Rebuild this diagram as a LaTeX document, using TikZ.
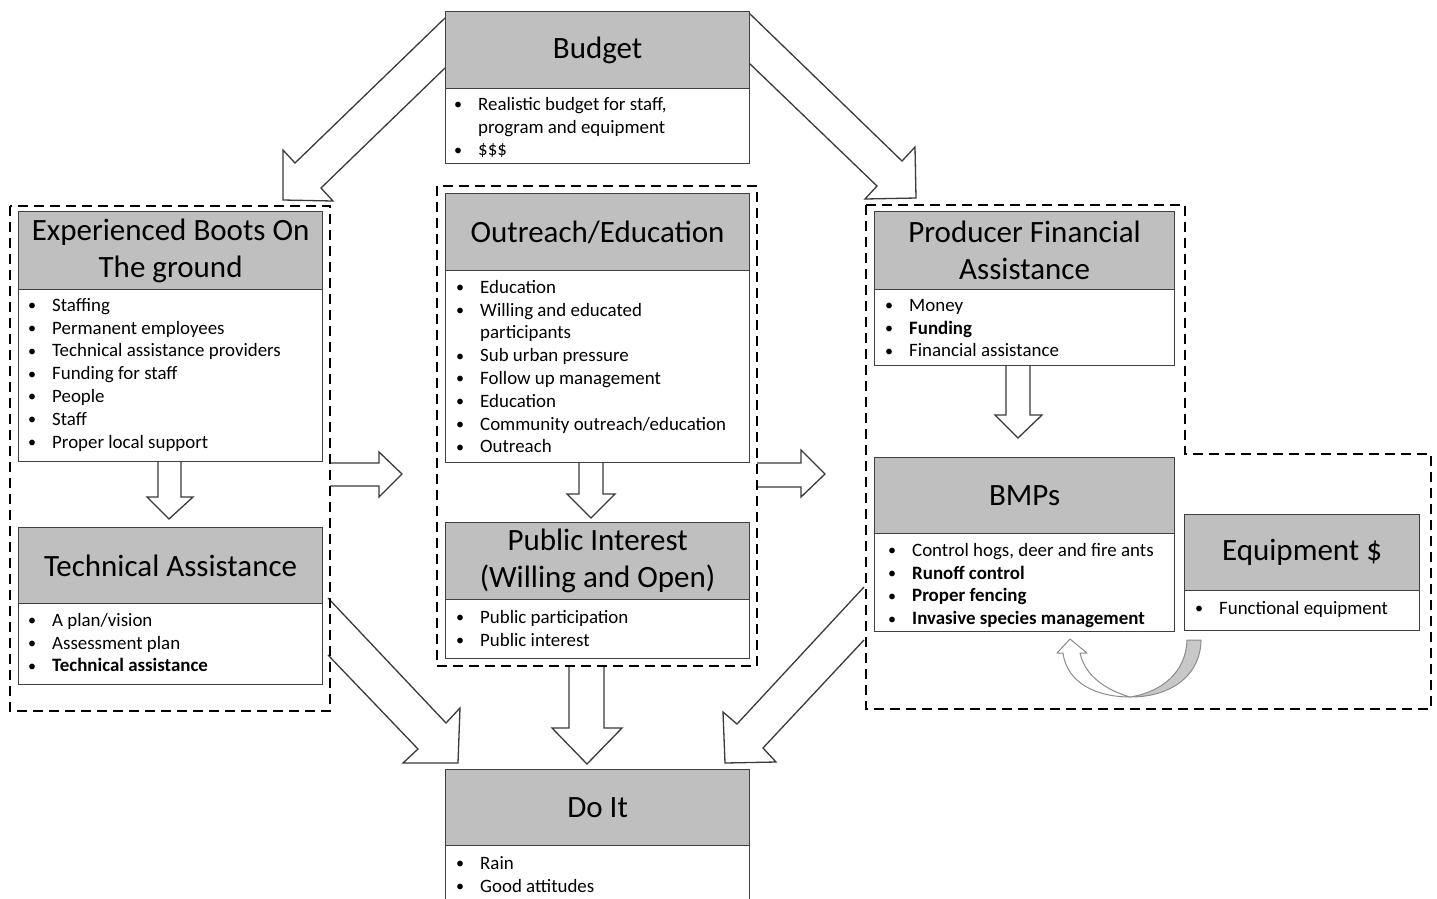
\documentclass[tikz,border=0pt]{standalone}
\usepackage{fontspec}
\setmainfont{Carlito}
\definecolor{hdrgray}{HTML}{BFBFBF}
\definecolor{boxline}{HTML}{404040}
\definecolor{arrline}{HTML}{3A3A3A}
\definecolor{curvegray}{HTML}{C8C8C8}
\definecolor{curveline}{HTML}{8C8C8C}
\newcommand{\bu}{\rule{0pt}{14pt}\makebox[24pt][l]{\raisebox{0.5pt}{\scalebox{0.85}{\textbullet}}}}
\newcommand{\ind}{\rule{0pt}{14pt}\hspace*{24pt}}
\tikzset{
  hdr/.style={draw=boxline, fill=hdrgray, line width=1.2pt, anchor=north west, inner sep=0pt, align=center, font=\fontsize{31}{37}\selectfont},
  bodybox/.style={draw=boxline, fill=white, line width=1.2pt, anchor=north west, inner sep=0pt},
  items/.style={anchor=north west, inner sep=0pt, align=left, font=\fontsize{18.9}{22.8}\selectfont},
  blockarrow/.style={draw=arrline, fill=white, line width=1.3pt, line join=miter},
  dashbox/.style={draw=black, line width=2.4pt, dash pattern=on 10pt off 6pt},
  curvearrow/.style={draw=curveline, line width=1pt, line join=round},
}
\begin{document}
\begin{tikzpicture}[x=1pt,y=-1pt]
\useasboundingbox (0,0) rectangle (1437,898);
\fill[white] (0,0) rectangle (1437,898);

% ---------- block arrows ----------
\draw[blockarrow] (445,18) -- (295,163) -- (283,150) -- (283,200) -- (333,201) -- (321,188) -- (445,68);
\draw[blockarrow] (749,13) -- (902,161) -- (915,147) -- (916,198) -- (865,199) -- (877,186) -- (749,63);
\draw[blockarrow] (328,598) -- (446,723) -- (460,708) -- (458,763) -- (403,763) -- (418,749) -- (328,655);
\draw[blockarrow] (864,587) -- (737,724) -- (723,712) -- (725,763) -- (776,762) -- (763,748) -- (864,640);
\draw[blockarrow] (330,463) -- (379,463) -- (379,452) -- (402,474) -- (379,497) -- (379,486) -- (330,486);
\draw[blockarrow] (757,463) -- (801,463) -- (801,450) -- (825,474) -- (801,497) -- (801,487) -- (757,487);
\draw[blockarrow] (158,461) -- (158,497) -- (147,497) -- (169,519) -- (193,497) -- (181,497) -- (181,461);
\draw[blockarrow] (579,462) -- (579,494) -- (567,494) -- (591,518) -- (615,494) -- (603,494) -- (603,462);
\draw[blockarrow] (1006,365) -- (1006,415) -- (995,415) -- (1018,438) -- (1042,415) -- (1030,415) -- (1030,365);
\draw[blockarrow] (569,666) -- (569,728) -- (552,728) -- (587,764) -- (622,728) -- (604,728) -- (604,666);

% ---------- dashed groups ----------
\draw[dashbox] (10,206) rectangle (330,711);
\draw[dashbox] (437,186) rectangle (757,666);
\draw[dashbox] (866,205) -- (1185,205) -- (1185,454) -- (1431,454) -- (1431,709) -- (866,709) -- cycle;

% ---------- Budget ----------
\node[hdr, minimum width=304pt, minimum height=77pt] (budgetH) at (445,11) {Budget};
\node[bodybox, minimum width=304pt, minimum height=75pt] (budgetB) at (445,88) {};
\node[items] (budgetT) at (454,96) {\bu Realistic budget for staff,\\ \ind program and equipment\\ \bu \$\$\$};

% ---------- Experienced Boots ----------
\node[hdr, minimum width=304pt, minimum height=78pt] (bootsH) at (18,211) {Experienced Boots On\\ The ground};
\node[bodybox, minimum width=304pt, minimum height=172pt] (bootsB) at (18,289) {};
\node[items] (bootsT) at (28,297) {\bu Staffing\\ \bu Permanent employees\\ \bu Technical assistance providers\\ \bu Funding for staff\\ \bu People\\ \bu Staff\\ \bu Proper local support};

% ---------- Technical Assistance ----------
\node[hdr, minimum width=304pt, minimum height=76pt] (techH) at (18,527) {Technical Assistance};
\node[bodybox, minimum width=304pt, minimum height=81pt] (techB) at (18,603) {};
\node[items] (techT) at (28,612) {\bu A plan/vision\\ \bu Assessment plan\\ \bu \textbf{Technical assistance}};

% ---------- Outreach/Education ----------
\node[hdr, minimum width=304pt, minimum height=77pt] (outH) at (445,193) {Outreach/Education};
\node[bodybox, minimum width=304pt, minimum height=192pt] (outB) at (445,270) {};
\node[items] (outT) at (456,279) {\bu Education\\ \bu Willing and educated\\ \ind participants\\ \bu Sub urban pressure\\ \bu Follow up management\\ \bu Education\\ \bu Community outreach/education\\ \bu Outreach};

% ---------- Public Interest ----------
\node[hdr, minimum width=304pt, minimum height=77pt] (pubH) at (445,522) {Public Interest\\ (Willing and Open)};
\node[bodybox, minimum width=304pt, minimum height=59pt] (pubB) at (445,599) {};
\node[items] (pubT) at (456,609) {\bu Public participation\\ \bu Public interest};

% ---------- Producer Financial Assistance ----------
\node[hdr, minimum width=300pt, minimum height=78pt] (prodH) at (874,211) {Producer Financial\\ Assistance};
\node[bodybox, minimum width=300pt, minimum height=76pt] (prodB) at (874,289) {};
\node[items] (prodT) at (885,297) {\bu Money\\ \bu \textbf{Funding}\\ \bu Financial assistance};

% ---------- BMPs ----------
\node[hdr, minimum width=300pt, minimum height=76pt] (bmpH) at (874,457) {BMPs};
\node[bodybox, minimum width=300pt, minimum height=98pt] (bmpB) at (874,533) {};
\node[items] (bmpT) at (888,542) {\bu Control hogs, deer and fire ants\\ \bu \textbf{Runoff control}\\ \bu \textbf{Proper fencing}\\ \bu \textbf{Invasive species management}};

% ---------- Equipment ----------
\node[hdr, minimum width=235pt, minimum height=76pt] (equipH) at (1184,514) {Equipment \$};
\node[bodybox, minimum width=235pt, minimum height=40pt] (equipB) at (1184,590) {};
\node[items] (equipT) at (1195,600) {\bu Functional equipment};

% ---------- Do It ----------
\node[hdr, minimum width=304pt, minimum height=76pt] (doH) at (445,769) {Do It};
\node[bodybox, minimum width=304pt, minimum height=70pt] (doB) at (445,845) {};
\node[items] (doT) at (456,855) {\bu Rain\\ \bu Good attitudes};

% ---------- curved arrow Equipment -> BMPs ----------
\draw[curvearrow, fill=white] (1063,653) .. controls (1067,684) and (1098,697) .. (1130,697)
   .. controls (1106,690) and (1085,676) .. (1080,653) -- (1087,653) -- (1070,639) -- (1057,653) -- cycle;
\draw[curvearrow, fill=curvegray] (1130,697) .. controls (1175,697) and (1201,672) .. (1201,640)
   -- (1187,640) .. controls (1186,672) and (1162,692) .. (1130,697) -- cycle;
\end{tikzpicture}
\end{document}
